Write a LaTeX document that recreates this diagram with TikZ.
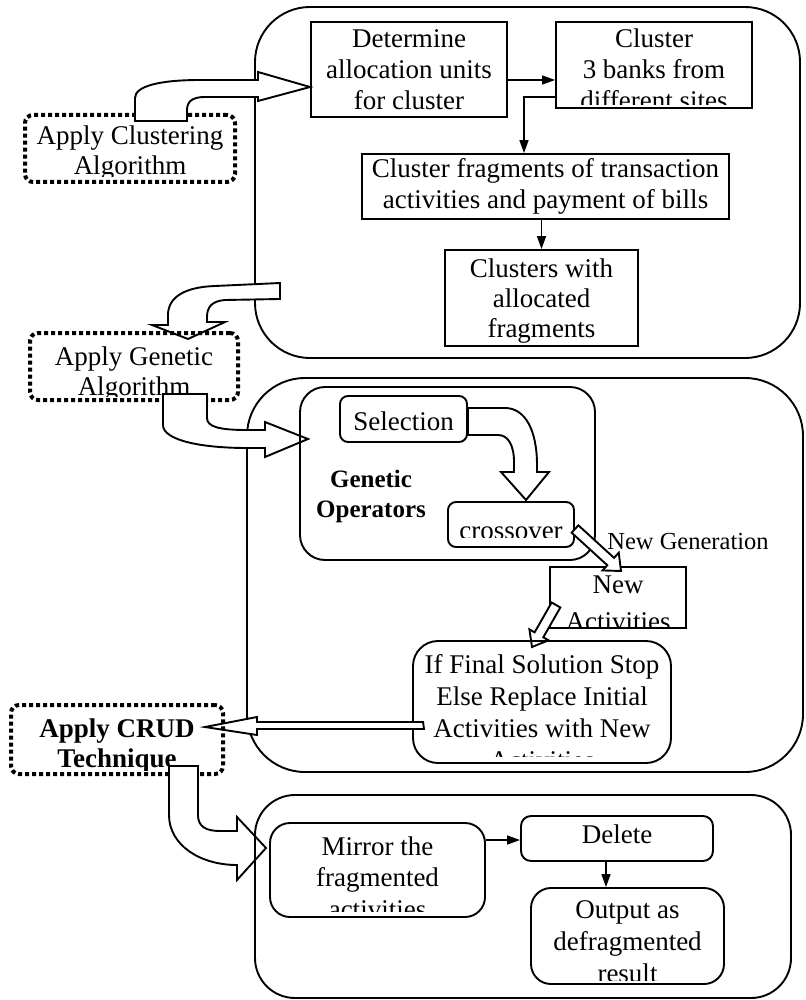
\documentclass[tikz,border=0pt]{standalone}
\usepackage{fontspec}
\setmainfont{Liberation Serif}
\usetikzlibrary{arrows.meta,calc,fit}
\newcommand\lines[1]{\begin{tabular}[t]{@{}c@{}}#1\end{tabular}}
\newcommand\barrow[5]{%
  \coordinate (bh) at ($(#2)!#5!(#1)$);
  \draw[blk] ($(#1)!#3!90:(#2)$) -- ($(bh)!#3!-90:(#1)$) -- ($(bh)!#4!-90:(#1)$) -- (#2)
     -- ($(bh)!#4!90:(#1)$) -- ($(bh)!#3!90:(#1)$) -- ($(#1)!#3!-90:(#2)$) -- cycle;}
\begin{document}
\begin{tikzpicture}[x=1pt,y=-1pt,
  box/.style={draw, line width=1.9pt, inner sep=0pt},
  rbox/.style={box, rounded corners=#1},
  dbox/.style={draw, line width=4pt, dash pattern=on 4pt off 3pt, rounded corners=8pt, inner sep=0pt},
  txt/.style={inner sep=0pt, font=\fontsize{27}{#1}\selectfont},
  txt/.default=31,
  btxt/.style={inner sep=0pt, font=\fontsize{27}{#1}\selectfont\bfseries},
  btxt/.default=30,
  arr/.style={line width=1.6pt, -{Triangle[length=13pt,width=9pt]}},
  blk/.style={draw, line width=1.9pt, fill=white, line join=miter}]
\useasboundingbox (0,0) rectangle (805,1000);

% ---------------- top group ----------------
\node[rbox=55pt, fit={(255,7) (800,358)}] (big1) {};
\node[box, fit={(311,22) (507,117)}] (det) {};
\node[txt, anchor=base] (tdet) at (det.center |- 0,48) {\lines{Determine\\allocation units\\for cluster}};
\node[box, fit={(556,22) (752,108)}] (clu) {};
\begin{scope}
\clip (556,22) rectangle (752,105);
\node[txt, anchor=base] (tclu) at (clu.center |- 0,48) {\lines{Cluster\\3 banks from\\different sites}};
\end{scope}
\node[box, fit={(362,154) (729,219)}] (frag) {};
\node[txt, anchor=base] (tfrag) at (frag.center |- 0,178) {\lines{Cluster fragments of transaction\\activities and payment of bills}};
\node[box, fit={(445,250) (638,346)}] (alloc) {};
\node[txt=30, anchor=base] (talloc) at (alloc.center |- 0,277) {\lines{Clusters with\\allocated\\fragments}};

\draw[arr] (det.east |- 0,80) -- (clu.west |- 0,80);
\draw[arr] (clu.west |- 0,97) -| ($(frag.north)+(-21.5,0)$);
\draw[arr] (alloc.north |- frag.south) -- (alloc.north);

% Apply Clustering Algorithm
\begin{scope}
\clip (25,115) rectangle (235,177);
\node[txt=30, anchor=base] (tdcl) at (130,145) {\lines{Apply Clustering\\Algorithm}};
\end{scope}
\node[dbox, fit={(25,115) (235,182)}] (dcl) {};

\draw[blk] (135,121) -- (135,98) .. controls (135,86) and (160,80) .. (200,80) -- (258,80) -- (258,72)
  -- (det.west |- 0,87) -- (258,101) -- (258,97) -- (205,97) .. controls (193,97) and (187,101) .. (187,110)
  -- (187,121) -- cycle;

% arrow to Apply Genetic Algorithm
\draw[blk] (280,283) -- (215,286) .. controls (185,287) and (168,297) .. (168,315) -- (168,325) -- (152,325)
  -- (188,339) -- (225,322) -- (207,322) -- (207,317) .. controls (207,307) and (212,301) .. (225,300)
  -- (280,299) -- cycle;

\begin{scope}
\clip (30,333) rectangle (238,396);
\node[txt=30, anchor=base] (tdgen) at (134,365) {\lines{Apply Genetic\\Algorithm}};
\end{scope}
\node[dbox, fit={(30,333) (238,400)}] (dgen) {};

% ---------------- genetic group ----------------
\node[rbox=58pt, fit={(247,378) (803,772)}] (big2) {};
\draw[blk] (163,394) -- (163,425) .. controls (163,440) and (200,448) .. (247,448) -- (265,448) -- (265,457)
  -- (308,439) -- (265,422) -- (265,430) -- (247,430) .. controls (220,430) and (207,427) .. (207,418)
  -- (207,394) -- cycle;
\node[rbox=25pt, fit={(300,387) (595,560)}] (gops) {};
\node[inner sep=0pt, font=\fontsize{25}{30}\selectfont\bfseries, anchor=base] (tgops) at (371,487) {\lines{Genetic\\Operators}};

\node[rbox=8pt, fit={(340,396) (467,442)}] (sel) {};
\node[txt, anchor=base] (tsel) at (sel.center |- 0,430) {Selection};
\node[rbox=8pt, fit={(448,502) (574,547)}] (cross) {};
\begin{scope}
\clip (448,502) rectangle (574,537);
\node[txt, anchor=base] (tcross) at (cross.center |- 0,539) {crossover};
\end{scope}

\draw[blk] (sel.east |- 0,408) -- (505,408) .. controls (525,408) and (537,430) .. (537,465) -- (537,472)
  -- (549,472) -- (526,500) -- (501,472) -- (514,472) -- (514,462) .. controls (514,445) and (508,435) .. (498,435)
  -- (sel.east |- 0,435) -- cycle;

\node[inner sep=0pt, font=\fontsize{24.5}{29}\selectfont, anchor=base] (tng) at (688,549) {New Generation};

\node[box, fit={(550,567) (686,628)}] (newact) {};
\begin{scope}
\clip (550,567) rectangle (686,626);
\node[txt=37, anchor=base] (tnewact) at (newact.center |- 0,593) {\lines{New\\Activities}};
\end{scope}

\coordinate (da1) at (575,529);
\coordinate (db1) at (621,571);
\barrow{da1}{db1}{5pt}{12pt}{14pt}
\coordinate (da2) at (556,605);
\coordinate (db2) at (532,647);
\barrow{da2}{db2}{5pt}{11pt}{14pt}

\node[rbox=25pt, fit={(413,641) (671,763)}] (iff) {};
\begin{scope}
\clip (413,641) rectangle (671,756);
\node[txt=32, anchor=base] (tiff) at (iff.center |- 0,673) {\lines{If Final Solution Stop\\Else Replace Initial\\Activities with New\\Activities}};
\end{scope}

\draw[blk] (iff.west |- 0,722) ++(11,0) -- (257,722) -- (257,717) -- (205,727) -- (257,735) -- (257,729)
  -- (424,729) -- cycle;

% Apply CRUD Technique
\begin{scope}
\clip (11,705) rectangle (223,770);
\node[btxt, anchor=base] (tdcrud) at (117,737) {\lines{Apply CRUD\\Technique}};
\end{scope}
\node[dbox, fit={(11,705) (223,774)}] (dcrud) {};

\draw[blk] (169,766) -- (169,815) .. controls (169,845) and (200,865) .. (237,865) -- (237,880) -- (266,848)
  -- (237,817) -- (237,831) -- (220,831) .. controls (205,831) and (198,826) .. (198,815) -- (198,766) -- cycle;

% ---------------- bottom group ----------------
\node[rbox=40pt, fit={(255,795) (791,998)}] (big3) {};
\node[rbox=20pt, fit={(270,823) (485,917)}] (mirror) {};
\begin{scope}
\clip (270,823) rectangle (485,911);
\node[txt=31.5, anchor=base] (tmirror) at (mirror.center |- 0,855) {\lines{Mirror the\\fragmented\\activities}};
\end{scope}
\node[rbox=10pt, fit={(521,816) (713,861)}] (delete) {};
\node[txt, anchor=base] (tdelete) at (delete.center |- 0,843) {Delete};
\node[rbox=20pt, fit={(531,888) (724,984)}] (output) {};
\begin{scope}
\clip (531,888) rectangle (724,980);
\node[txt=32, anchor=base] (toutput) at (output.center |- 0,918) {\lines{Output as\\defragmented\\result}};
\end{scope}

\draw[arr] (mirror.east |- 0,840) -- (delete.west |- 0,840);
\draw[arr] (606,0 |- delete.south) -- (606,0 |- output.north);
\end{tikzpicture}
\end{document}
